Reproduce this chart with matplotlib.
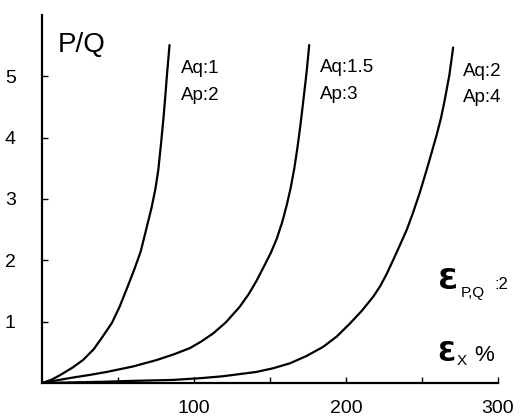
import matplotlib
matplotlib.use("Agg")
import matplotlib.pyplot as plt

plt.rcParams['font.family'] = ['Liberation Sans', 'DejaVu Sans']

# Curve 1: Aq:1, Ap:2
x1 = [0, 6, 12, 20, 27, 34, 40, 46, 51, 56, 61, 65, 68.5, 72, 74.5, 76.5, 78.3, 80, 81.2, 82.3, 83.9]
y1 = [0, 0.05, 0.13, 0.25, 0.375, 0.55, 0.76, 0.98, 1.24, 1.55, 1.87, 2.15, 2.5, 2.85, 3.15, 3.47,
      3.9, 4.34, 4.7, 5.05, 5.51]
# Curve 2: Aq:1.5, Ap:3
x2 = [0, 10, 20.6, 31, 42.5, 60, 75.5, 87, 97.4, 105, 112.7, 121, 130, 136, 141, 146, 150.5,
      154.4, 158, 161, 163.5, 166, 168, 170, 172, 174, 175.8]
y2 = [0, 0.045, 0.09, 0.13, 0.18, 0.27, 0.375, 0.47, 0.57, 0.68, 0.81, 0.99, 1.24, 1.45, 1.66,
      1.90, 2.12, 2.35, 2.62, 2.90, 3.17, 3.50, 3.83, 4.2, 4.62, 5.05, 5.51]
# Curve 3: Aq:2, Ap:4
x3 = [0, 20, 40, 60, 86, 105, 119, 130, 141, 152, 163, 174, 185, 194, 202.6, 210.5, 218, 222.5,
      226.8, 231.5, 235.5, 240, 244, 248.5, 253, 256.5, 259.7, 262.5, 265, 268, 270.5]
y3 = [0, 0.01, 0.02, 0.035, 0.05, 0.08, 0.11, 0.145, 0.18, 0.24, 0.32, 0.44, 0.59, 0.76, 0.97,
      1.18, 1.41, 1.58, 1.78, 2.03, 2.25, 2.50, 2.77, 3.1, 3.47, 3.77, 4.05, 4.32, 4.62, 5.02, 5.47]

xticks_major = [50, 100, 150, 200, 250, 300]
xtick_labels = ['', '100', '', '200', '', '300']
yticks = [1, 2, 3, 4, 5]

W, H = 520, 416
fig = plt.figure(figsize=(W / 100, H / 100), dpi=100)
ax = fig.add_axes([42 / W, 1 - 383 / H, (498 - 42) / W, 368 / H])

for xs, ys in [(x1, y1), (x2, y2), (x3, y3)]:
    ax.plot(xs, ys, color='black', lw=1.6, solid_capstyle='round', solid_joinstyle='round')

ax.set_xlim(0, 300)
ax.set_ylim(0, 6)
ax.spines['top'].set_visible(False)
ax.spines['right'].set_visible(False)
ax.spines['left'].set_linewidth(1.6)
ax.spines['bottom'].set_linewidth(1.6)
ax.set_xticks(xticks_major)
ax.set_xticklabels(xtick_labels)
ax.set_yticks(yticks)
ax.set_yticklabels([str(v) for v in yticks])
ax.tick_params(direction='in', length=4, width=1, labelsize=14)
ax.tick_params(axis='x', pad=12)
ax.tick_params(axis='y', pad=19)


def ftext(px, py, s, size, **kw):
    fig.text(px / W, 1 - py / H, s, fontsize=size, va='baseline', ha='left', **kw)


ftext(58, 52, 'P/Q', 20)
ftext(181, 73, 'Aq:1', 13.5)
ftext(181, 100, 'Ap:2', 13.5)
ftext(320, 72, 'Aq:1.5', 13.5)
ftext(320, 99, 'Ap:3', 13.5)
ftext(463, 76, 'Aq:2', 13.5)
ftext(463, 102, 'Ap:4', 13.5)

ftext(438, 289, '\u0190', 21, family='DejaVu Sans', fontweight='bold')
ftext(461, 297, 'P,Q', 11)
ftext(494, 289, ':2', 12)

ftext(437, 361, '\u0190', 19, family='DejaVu Sans', fontweight='bold')
ftext(457, 365, 'X', 11)
ftext(474, 361, '%', 16)

fig.savefig('out.png', dpi=100, facecolor='white')
